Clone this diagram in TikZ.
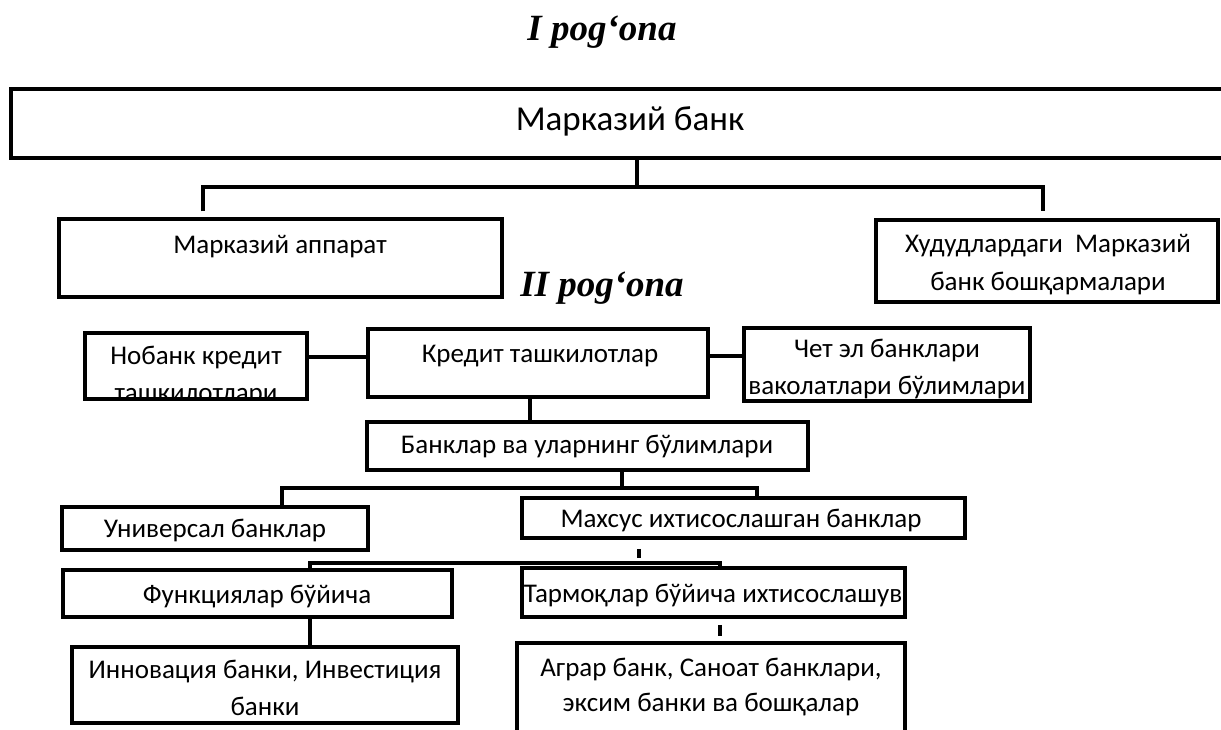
\documentclass[tikz,border=0pt]{standalone}
\usepackage{fontspec}
\setmainfont{Carlito}
\newfontfamily\titlefont{Liberation Serif}
\newcommand\bx[5]{\node[box, minimum width={#4-#2}, minimum height={#5-#3}] (#1) at ({(#2+#4)/2},{(#3+#5)/2}) {};}
\begin{document}
\begin{tikzpicture}[x=1pt,y=-1pt,
 box/.style={draw, line width=3.5pt, inner sep=0pt},
 conn/.style={line width=4pt},
 txt/.style={inner sep=0pt, anchor=base, font=\fontsize{27}{32}\selectfont},
 bigtxt/.style={inner sep=0pt, anchor=base, font=\fontsize{35}{42}\selectfont},
 ttl/.style={inner sep=0pt, anchor=base, font=\titlefont\bfseries\itshape\fontsize{37}{40}\selectfont}]
\useasboundingbox (0,0) rectangle (1221,729);
\clip (0,0) rectangle (1221,729);
% boxes
\bx{top}{11}{89}{1240}{158}
\bx{ma}{59}{219}{502}{297}
\bx{hud}{876}{220}{1218}{302}
\bx{nob}{85}{333}{307}{399}
\bx{kred}{368}{329}{708}{397}
\bx{chet}{744}{328}{1030}{401}
\bx{bank}{367}{422}{808}{470}
\bx{univ}{62}{507}{368}{550}
\bx{mah}{522}{498}{965}{538}
\bx{func}{63}{570}{452}{617}
\bx{tarm}{522}{568}{905}{617}
\bx{inn}{72}{647}{458}{723}
\bx{agr}{517}{643}{905}{760}
% connector points
\coordinate (j1) at (637,187);
\coordinate (l1) at (203,187);
\coordinate (r1) at (1043,187);
\coordinate (h1) at (0,357);
\coordinate (h2) at (0,356);
\coordinate (v1) at (530,0);
\coordinate (j2) at (622,488);
\coordinate (l2) at (282,488);
\coordinate (r2) at (757,488);
\coordinate (j3) at (639,558);
\coordinate (l3) at (310,563);
\coordinate (r3) at (720,563);
% connectors
\draw[conn] (top.south -| j1) -- (j1);
\draw[conn] ([yshift=6pt]ma.north -| l1) -- (l1) -- (r1) -- ([yshift=7pt]hud.north -| r1);
\draw[conn] (nob.east |- h1) -- (kred.west |- h1);
\draw[conn] (kred.east |- h2) -- (chet.west |- h2);
\draw[conn] (kred.south -| v1) -- (bank.north -| v1);
\draw[conn] (bank.south -| j2) -- (j2);
\draw[conn] (univ.north -| l2) -- (l2) -- (r2) -- (mah.north -| r2);
\draw[conn] ([yshift=-9pt]mah.south -| j3) -- (j3);
\draw[conn] (func.north -| l3) -- (l3) -- (r3) -- (tarm.north -| r3);
\draw[conn] (func.south -| l3) -- (inn.north -| l3);
\draw[conn] ([yshift=-6pt]tarm.south -| r3) -- ([yshift=5pt]agr.north -| r3);
% texts
\node[ttl] (t1) at (602,40) {I pog‘ona};
\node[ttl] (t2) at (602,296) {II pog‘ona};
\node[bigtxt] (ttop) at (630,130) {Марказий банк};
\node[txt] (tma) at (280,253) {Марказий аппарат};
\node[txt] (thud1) at (1048,252) {Худудлардаги\ \ Марказий};
\node[txt] (thud2) at (1048,290) {банк бошқармалари};
\node[txt] (tnob1) at (196,364) {Нобанк кредит};
\begin{scope}
\clip (nob.north west) rectangle ([yshift=1.75pt]nob.south east);
\node[txt] (tnob2) at (196,401) {ташкилотлари};
\end{scope}
\node[txt] (tkred) at (540,362) {Кредит ташкилотлар};
\node[txt] (tchet1) at (887,357) {Чет эл банклари};
\node[txt] (tchet2) at (887,394) {ваколатлари бўлимлари};
\node[txt] (tbank) at (587,453) {Банклар ва уларнинг бўлимлари};
\node[txt] (tuniv) at (215,537) {Универсал банклар};
\node[txt] (tmah) at (741,527) {Махсус ихтисослашган банклар};
\node[txt] (tfunc) at (257,603) {Функциялар бўйича};
\node[txt] (ttarm) at (713,602) {Тармоқлар бўйича ихтисослашув};
\node[txt] (tinn1) at (265,678) {Инновация банки, Инвестиция};
\node[txt] (tinn2) at (265,715) {банки};
\node[txt] (tagr1) at (711,676) {Аграр банк, Саноат банклари,};
\node[txt] (tagr2) at (711,711) {эксим банки ва бошқалар};
\end{tikzpicture}
\end{document}
